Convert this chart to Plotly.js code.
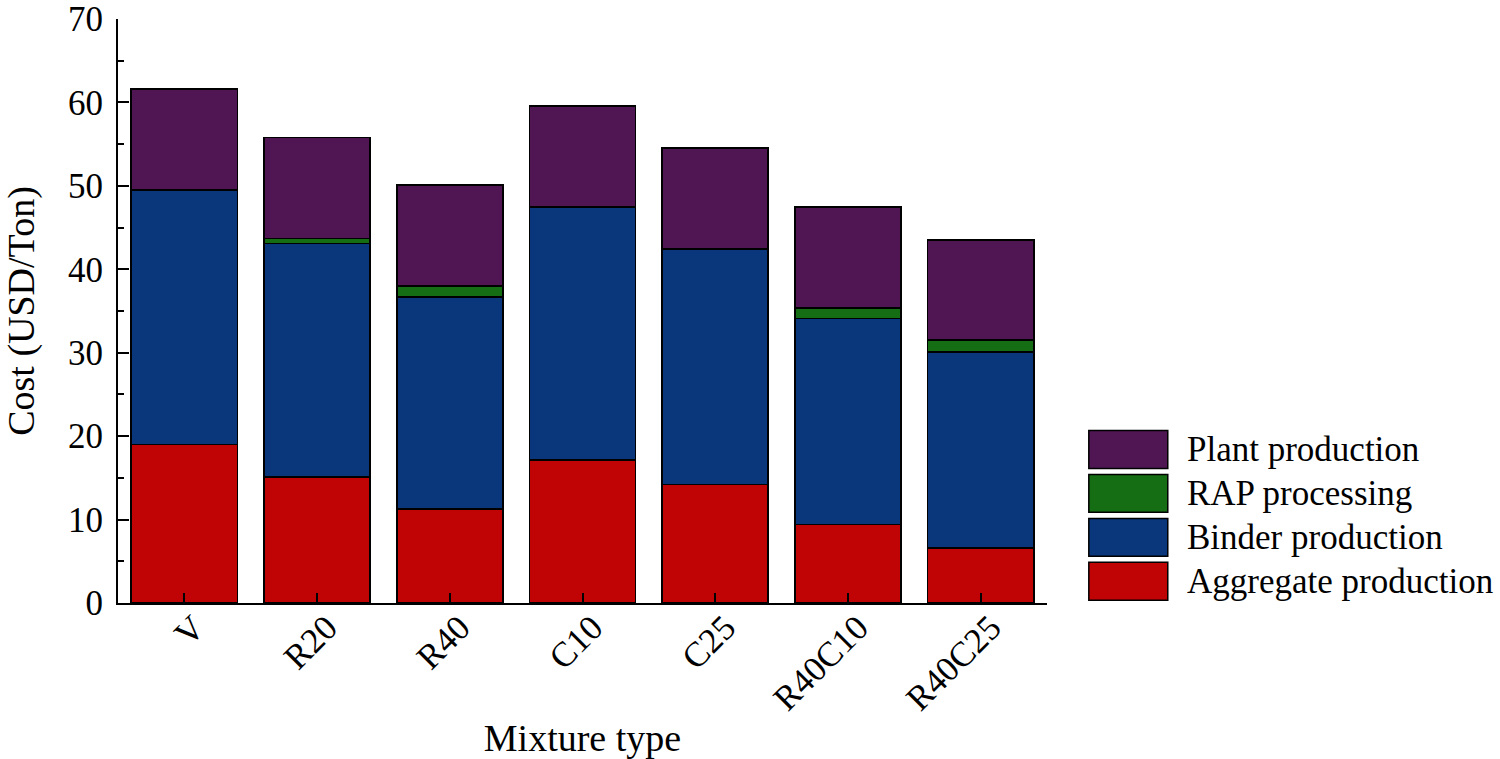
<!DOCTYPE html>
<html>
<head>
<meta charset="utf-8">
<script src="https://cdn.plot.ly/plotly-3.0.1.min.js"></script>
<style>html,body{margin:0;padding:0;background:#fff;}#chart{width:1500px;height:759px;}</style>
</head>
<body>
<div id="chart"></div>
<script>
const categories = ["V", "R20", "R40", "C10", "C25", "R40C10", "R40C25"];
const aggregate = [19.0, 15.1, 11.3, 17.1, 14.2, 9.4, 6.6];
const binder = [30.5, 28.0, 25.4, 30.4, 28.2, 24.7, 23.5];
const rap = [0, 0.6, 1.3, 0, 0, 1.3, 1.4];
const plant = [12.1, 12.1, 12.1, 12.05, 12.1, 12.1, 12.0];

const seriesNames = ["Aggregate production", "Binder production", "RAP processing", "Plant production"];
const seriesValues = [aggregate, binder, rap, plant];
const seriesColors = ["#C00406", "#0A367C", "#166E14", "#501654"];

const font = "Liberation Serif, Times New Roman, serif";

const traces = seriesNames.map((n, i) => ({
  type: "bar",
  name: n,
  x: categories,
  y: seriesValues[i],
  marker: {color: seriesColors[i], line: {color: "#000", width: 1.8}},
  showlegend: false,
  hoverinfo: "x+y+name"
}));

// custom legend (large swatches like the reference), top item = last series
const shapes = [];
const annotations = [];
const legendOrder = [3, 2, 1, 0];
const legX0 = 1.045, legX1 = 1.13, itemH = 0.0753, firstCenter = 0.263;
legendOrder.forEach((si, k) => {
  const yc = firstCenter - k * itemH;
  shapes.push({type: "rect", xref: "paper", yref: "paper",
    x0: legX0, x1: legX1, y0: yc - 0.0325, y1: yc + 0.0325,
    fillcolor: seriesColors[si], line: {color: "#000", width: 1.5}});
  annotations.push({xref: "paper", yref: "paper", x: 1.149, y: yc,
    xanchor: "left", yanchor: "middle", showarrow: false,
    text: seriesNames[si], font: {family: font, size: 35, color: "#000"}});
});

const layout = {
  width: 1500, height: 759,
  margin: {l: 118, r: 453, t: 19, b: 156},
  paper_bgcolor: "#fff", plot_bgcolor: "#fff",
  barmode: "stack",
  bargap: 0.2,
  font: {family: font, color: "#000"},
  xaxis: {
    type: "category",
    range: [-0.5, 6.5],
    showline: true, linecolor: "#000", linewidth: 2,
    ticks: "inside", ticklen: 10, tickwidth: 2, tickcolor: "#000",
    tickangle: -45,
    ticklabelshift: 10,
    ticklabelstandoff: -12,
    tickfont: {family: font, size: 35, color: "#000"},
    showgrid: false, zeroline: false,
    title: {text: "Mixture type", font: {family: font, size: 38, color: "#000"}, standoff: 10}
  },
  yaxis: {
    range: [0, 70],
    tickvals: [0, 10, 20, 30, 40, 50, 60, 70],
    showline: true, linecolor: "#000", linewidth: 2,
    ticks: "inside", ticklen: 11, tickwidth: 2, tickcolor: "#000",
    minor: {dtick: 5, ticks: "inside", ticklen: 6, tickwidth: 2, tickcolor: "#000", showgrid: false},
    tickfont: {family: font, size: 35, color: "#000"},
    ticklabelstandoff: 6,
    showgrid: false, zeroline: false,
    title: {text: "Cost (USD/Ton)", font: {family: font, size: 38, color: "#000"}, standoff: 22}
  },
  shapes: shapes,
  annotations: annotations
};

Plotly.newPlot("chart", traces, layout, {displayModeBar: false, staticPlot: true});
</script>
</body>
</html>
